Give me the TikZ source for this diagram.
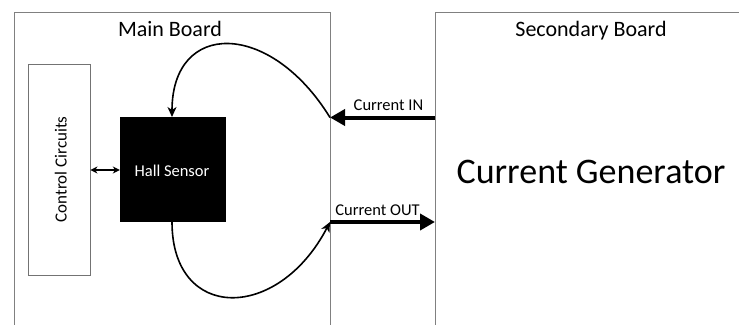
\documentclass[tikz,border=0pt]{standalone}
\usepackage{fontspec}
\setmainfont{Carlito}
\usetikzlibrary{arrows.meta}
\begin{document}
\begin{tikzpicture}[x=1pt,y=-1pt,
  board/.style={draw=black!50,line width=1pt,rectangle,inner sep=0pt,anchor=north west},
  thin box/.style={draw=black!55,line width=0.9pt,rectangle,inner sep=0pt},
  curvearrow/.style={line width=1.6pt,-{Stealth[length=10pt,width=9pt,inset=3pt]}},
  thickarrow/.style={line width=4pt,-{Triangle[length=15pt,width=16pt]}},
  lbl/.style={inner sep=0pt,anchor=base,font=\fontsize{16.5}{16.5}\selectfont},
  title/.style={inner sep=0pt,anchor=base,font=\fontsize{22}{22}\selectfont}]
\useasboundingbox (0,0) rectangle (739,324);
\clip (0,0) rectangle (739,324);
\fill[white] (0,0) rectangle (739,324);
% boards
\node[board,minimum width=316pt,minimum height=340pt] (main) at (14,11.5) {};
\node[board,minimum width=340pt,minimum height=340pt] (sec) at (435,11.5) {};
\node[title] (mainlbl) at (170,36.5) {Main Board};
\node[title] (seclbl) at (591,36.5) {Secondary Board};
\node[inner sep=0pt,anchor=base,font=\fontsize{36}{36}\selectfont] (gen) at (591,183) {Current Generator};
% control circuits
\node[thin box,minimum width=62pt,minimum height=211pt] (ctrl) at (59,169.5) {};
\node[inner sep=0pt,rotate=90,anchor=base,font=\fontsize{17}{17}\selectfont] (ctrllbl) at (66.5,169.5) {Control Circuits};
% hall sensor
\node[fill=black,draw=black,minimum width=105pt,minimum height=104pt,inner sep=0pt] (hall) at (172.5,169.5) {};
\node[lbl,text=white] (halllbl) at (172,176) {Hall Sensor};
% connection points
\coordinate (inR) at (435,117.5);
\coordinate (inL) at (330,117.5);
\coordinate (outL) at (330,222);
\coordinate (outR) at (435,222);
\coordinate (hallTop) at (172,117);
\coordinate (hallBot) at (172,222);
% arrows
\draw[line width=1.3pt,{Stealth[length=7pt,width=7pt]}-{Stealth[length=7pt,width=7pt]}] (ctrl.east |- 0,170) -- (hall.west |- 0,170);
\draw[thickarrow] (inR) -- (inL);
\draw[thickarrow] (outL) -- (outR);
\draw[curvearrow] (inL) .. controls (270,20) and (172,20) .. (hallTop);
\draw[curvearrow] (hallBot) .. controls (172,322) and (278,322) .. (outL);
\node[lbl] (inlbl) at (388.5,110) {Current IN};
\node[lbl] (outlbl) at (377.5,215.5) {Current OUT};
\end{tikzpicture}
\end{document}
